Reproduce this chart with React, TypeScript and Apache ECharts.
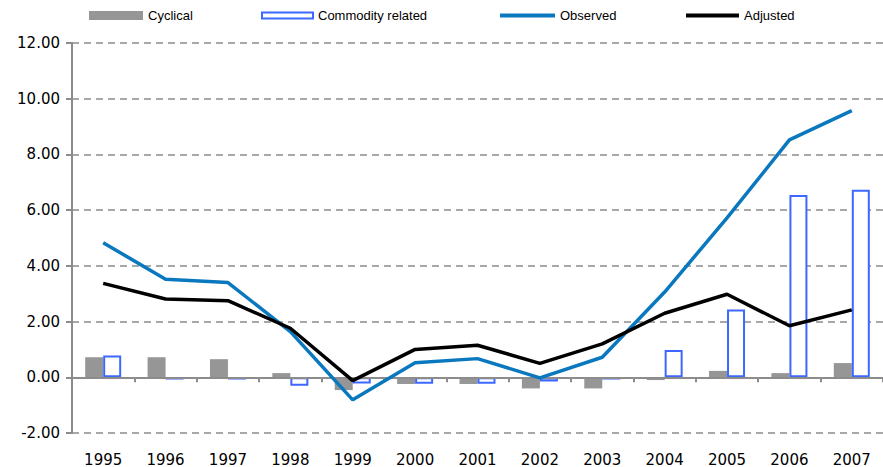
import React, { useEffect, useRef } from "react";
import * as echarts from "echarts";

const years = ["1995", "1996", "1997", "1998", "1999", "2000", "2001", "2002", "2003", "2004", "2005", "2006", "2007"];
const cyclical = [0.72, 0.72, 0.65, 0.15, -0.46, -0.24, -0.24, -0.40, -0.40, -0.10, 0.23, 0.15, 0.51];
const commodity = [0.78, -0.08, -0.08, -0.30, -0.22, -0.23, -0.23, -0.15, -0.08, 0.98, 2.43, 6.54, 6.73];
const observed = [4.83, 3.52, 3.40, 1.64, -0.81, 0.52, 0.67, -0.02, 0.72, 3.06, 5.72, 8.52, 9.57];
const adjusted = [3.37, 2.81, 2.75, 1.76, -0.12, 1.0, 1.15, 0.5, 1.2, 2.3, 2.98, 1.85, 2.42];

const GRAY = "#969696";
const BLUE_EDGE = "#3D68FF";
const OBS = "#0A78BE";
const AXIS = "#8C8C8C";

const Y_MIN = -2;
const Y_MAX = 12;
const GRID_TOP = 43;
const GRID_BOTTOM = 34;
const H = 467;

export default function App() {
  const ref = useRef<HTMLDivElement>(null);
  useEffect(() => {
    document.body.style.margin = "0";
    const chart = echarts.init(ref.current!, null, { renderer: "svg" });
    const legendText = { fontFamily: "Liberation Sans, Arial, sans-serif", fontSize: 13, color: "#000" };
    const mkLegend = (name: string, left: number, w: number, h: number, extra: any = {}) => ({
      show: true,
      left,
      top: 9,
      itemWidth: w,
      itemHeight: h,
      padding: 0,
      textStyle: legendText,
      data: [{ name, ...extra }],
    });
    const plotH = H - GRID_TOP - GRID_BOTTOM;
    const zeroOffset = -((0 - Y_MIN) / (Y_MAX - Y_MIN)) * plotH;
    chart.setOption({
      animation: false,
      backgroundColor: "#fff",
      legend: [
        mkLegend("Cyclical", 89, 54, 9, { icon: "rect", itemStyle: { color: GRAY, borderWidth: 0 } }),
        mkLegend("Commodity related", 261, 51, 6, {
          icon: "rect",
          itemStyle: { color: "#fff", borderColor: BLUE_EDGE, borderWidth: 2 },
        }),
        mkLegend("Observed", 500, 55, 4, { icon: "rect", itemStyle: { color: OBS, borderWidth: 0 } }),
        mkLegend("Adjusted", 686, 53, 4, { icon: "rect", itemStyle: { color: "#000", borderWidth: 0 } }),
      ],
      grid: { left: 72, right: 0, top: GRID_TOP, bottom: GRID_BOTTOM, containLabel: false },
      xAxis: [
        {
          type: "category",
          data: years,
          position: "bottom",
          axisLine: { show: false, onZero: false },
          axisTick: { show: false },
          axisLabel: {
            margin: 19,
            fontFamily: "DejaVu Sans, sans-serif",
            fontSize: 15,
            color: "#000",
          },
          splitLine: { show: false },
        },
        {
          type: "category",
          data: years,
          position: "bottom",
          offset: zeroOffset,
          axisLine: { show: true, onZero: false, lineStyle: { color: AXIS, width: 2 } },
          axisTick: { show: true, inside: false, length: 5, lineStyle: { color: AXIS, width: 2 } },
          axisLabel: { show: false },
          splitLine: { show: false },
          z: 3,
        },
      ],
      yAxis: {
        type: "value",
        min: Y_MIN,
        max: Y_MAX,
        interval: 2,
        axisLine: { show: true, lineStyle: { color: AXIS, width: 2 } },
        axisTick: { show: true, inside: false, length: 6, lineStyle: { color: AXIS, width: 2 } },
        axisLabel: {
          margin: 12,
          fontFamily: "DejaVu Sans, sans-serif",
          fontSize: 15,
          color: "#000",
          formatter: (v: number) => v.toFixed(2),
        },
        splitLine: { show: true, lineStyle: { color: AXIS, width: 1.5, type: [7, 5] } },
      },
      series: [
        {
          name: "Cyclical",
          type: "bar",
          xAxisIndex: 0,
          data: cyclical,
          barWidth: 18,
          barGap: "0%",
          itemStyle: { color: GRAY },
        },
        {
          name: "Commodity related",
          type: "bar",
          xAxisIndex: 0,
          data: commodity,
          barWidth: 18,
          barGap: "0%",
          itemStyle: { color: "#fff", borderColor: BLUE_EDGE, borderWidth: 2 },
        },
        {
          name: "Observed",
          type: "line",
          xAxisIndex: 0,
          data: observed,
          symbol: "none",
          lineStyle: { color: OBS, width: 3.5 },
          itemStyle: { color: OBS },
          z: 5,
        },
        {
          name: "Adjusted",
          type: "line",
          xAxisIndex: 0,
          data: adjusted,
          symbol: "none",
          lineStyle: { color: "#000", width: 3.5 },
          itemStyle: { color: "#000" },
          z: 6,
        },
      ],
    });
    return () => chart.dispose();
  }, []);
  return <div ref={ref} style={{ width: 883, height: 467 }} />;
}
